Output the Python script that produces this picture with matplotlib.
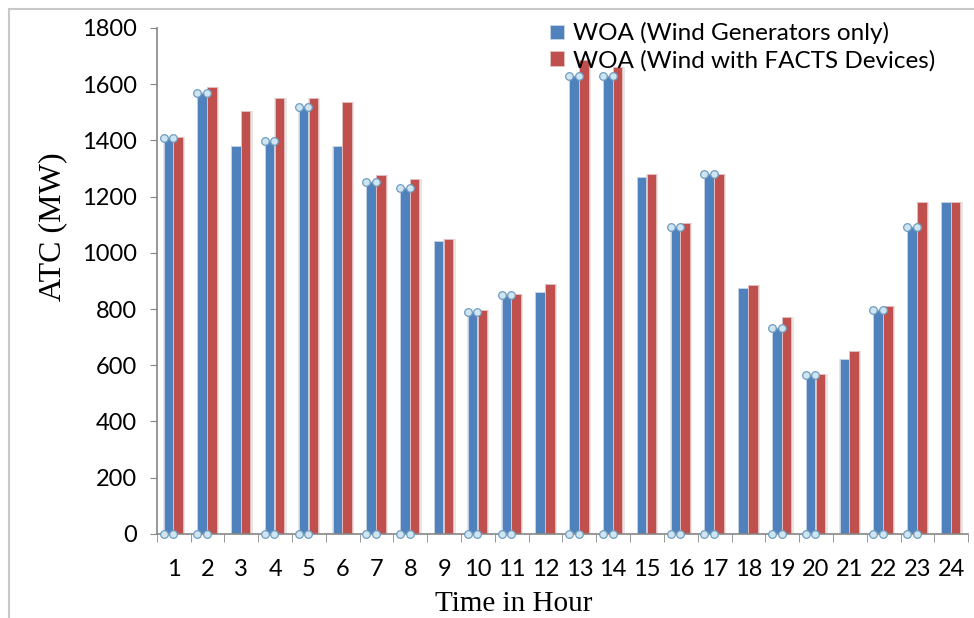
import numpy as np
import matplotlib.pyplot as plt
from matplotlib.patches import Rectangle

# hourly ATC values
hours = list(range(1, 25))
atc_wind = [1408, 1568, 1380, 1399, 1518, 1380, 1251, 1231, 1042, 790, 850, 860,
            1630, 1630, 1268, 1093, 1280, 874, 732, 566, 621, 797, 1093, 1182]
atc_facts = [1411, 1591, 1505, 1552, 1552, 1536, 1275, 1262, 1048, 797, 855, 888,
             1686, 1660, 1280, 1105, 1280, 886, 770, 569, 651, 809, 1180, 1182]
# hours where the blue series shows selection handles in the original
handle_hours = [1, 2, 4, 5, 7, 8, 10, 11, 13, 14, 16, 17, 19, 20, 22, 23]

label_wind = 'WOA (Wind Generators only)'
label_facts = 'WOA (Wind with FACTS Devices)'

blue = '#4F81BD'
red = '#C0504D'

fig = plt.figure(figsize=(9.74, 6.18), dpi=100)
ax = fig.add_axes([0.161, 0.136, 0.833, 0.819])

x = np.array(hours)
w = 0.28
xb = x - 0.16
xr = x + 0.13

# soft shadow behind bars
ax.bar(xb + 0.03, atc_wind, width=w + 0.08, color='#e6e6e6', zorder=1)
ax.bar(xr + 0.03, atc_facts, width=w + 0.08, color='#e6e6e6', zorder=1)

ax.bar(xb, atc_wind, width=w, color=blue, edgecolor='#c9d6e8', linewidth=0.6,
       label=label_wind, zorder=2)
ax.bar(xr, atc_facts, width=w, color=red, edgecolor='#e6c3c2', linewidth=0.6,
       label=label_facts, zorder=2)

# selection handles on the blue series
for h in handle_hours:
    v = atc_wind[h - 1]
    left = h - 0.16 - w / 2
    right = h - 0.16 + w / 2
    ax.plot([left, right], [v, v], color='#7fa7c9', lw=1, zorder=3)
    ax.plot([left, right], [v, v], 'o', ms=5.5, mfc='#cfe6f2', mec='#6f9cc0',
            mew=0.9, zorder=4, clip_on=False)
    ax.plot([left, right], [0, 0], 'o', ms=5.5, mfc='#cfe6f2', mec='#6f9cc0',
            mew=0.9, zorder=4, clip_on=False)

ax.set_xlim(0.5, 24.5)
ax.set_ylim(0, 1800)
ax.set_yticks(np.arange(0, 1801, 200))
ax.set_xticks(hours)
ax.set_xticks(np.arange(0.5, 25, 1), minor=True)

tick_font = 'Lato'
ax.tick_params(axis='y', which='major', length=5, color='#868686', pad=9,
               labelsize=17)
ax.tick_params(axis='x', which='major', length=0, pad=18, labelsize=17)
ax.tick_params(axis='x', which='minor', length=6, color='#868686')
for lab in ax.get_xticklabels() + ax.get_yticklabels():
    lab.set_family(tick_font)

for s in ['top', 'right']:
    ax.spines[s].set_visible(False)
for s in ['left', 'bottom']:
    ax.spines[s].set_color('#868686')
    ax.spines[s].set_linewidth(1.2)

fig.text(0.054, 0.634, 'ATC (MW)', rotation=90, ha='center', va='center',
         family='Liberation Serif', fontsize=23)
fig.text(0.527, 0.022, 'Time in Hour', ha='center', va='center',
         family='Liberation Serif', fontsize=21)

ax.legend(loc='upper right', bbox_to_anchor=(0.972, 1.03), frameon=False,
          prop={'family': tick_font, 'size': 17.5}, handlelength=0.55,
          handleheight=0.55, handletextpad=0.4, labelspacing=0.22,
          borderaxespad=0)

# chart-area border
fig.patches.append(Rectangle((0.009, -0.05), 1.2, 0.05 + 1 - 9 / 618,
                             transform=fig.transFigure, fill=False,
                             edgecolor='#c8c8c8', linewidth=1.5))

fig.savefig('out.png', dpi=100)
